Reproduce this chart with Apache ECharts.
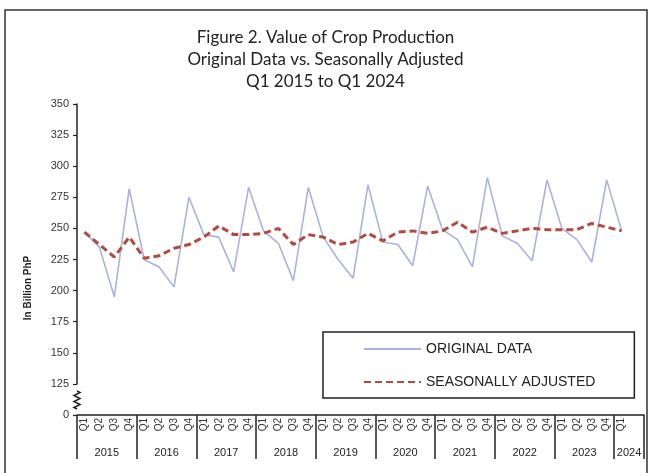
<!DOCTYPE html>
<html>
<head>
<meta charset="utf-8">
<script src="https://cdn.jsdelivr.net/npm/echarts@6/dist/echarts.min.js"></script>
<style>html,body{margin:0;padding:0;background:#fff;}#chart{width:651px;height:473px;}</style>
</head>
<body>
<div id="chart"></div>
<script>
// Quarter categories (last slot is an empty spacer, as in the original layout)
var quarters = ['Q1','Q2','Q3','Q4','Q1','Q2','Q3','Q4','Q1','Q2','Q3','Q4','Q1','Q2','Q3','Q4','Q1','Q2','Q3','Q4','Q1','Q2','Q3','Q4','Q1','Q2','Q3','Q4','Q1','Q2','Q3','Q4','Q1','Q2','Q3','Q4','Q1',''];
var years = ['2015','2016','2017','2018','2019','2020','2021','2022','2023','2024'];
var originalData = [247, 235, 195, 282, 225, 219, 203, 275, 245, 243, 215, 283, 248, 238, 208, 283, 243, 225, 210, 285, 239, 237, 220, 284, 249, 241, 219, 291, 244, 238, 224, 289, 250, 241, 223, 289, 248];
var seasonallyAdjusted = [247, 237, 227, 243, 226, 228, 234, 237, 243, 252, 245, 245, 246, 250, 237, 245, 243, 237, 239, 246, 240, 247, 248, 246, 248, 255, 247, 251, 246, 248, 250, 249, 249, 249, 254, 251, 248];
var seriesNames = ['ORIGINAL DATA', 'SEASONALLY ADJUSTED'];

// Year row: half-quarter slots, year label at the middle of each group
var yearSlots = [];
for (var i = 0; i <= 76; i++) yearSlots.push('');
for (var k = 0; k < 9; k++) yearSlots[8 * k + 4] = years[k];
yearSlots[74] = years[9];

// axis-break squiggle decoration (between the 0 and 125 ticks)
var ax = 77, sTop = 391, sBot = 409;
var squiggle = [[ax, sTop]];
var n = 6;
for (var j = 1; j <= n; j++) {
  squiggle.push([ax + (j % 2 ? 3 : -3), sTop + (sBot - sTop) * (j - 0.5) / n]);
}
squiggle.push([ax, sBot]);

var chart = echarts.init(document.getElementById('chart'), null, {renderer: 'canvas'});
var option = {
  animation: false,
  backgroundColor: '#fff',
  title: {
    text: 'Figure 2. Value of Crop Production\nOriginal Data vs. Seasonally Adjusted\nQ1 2015 to Q1 2024',
    left: 'center',
    top: 22,
    textStyle: {fontFamily: 'Lato', fontSize: 17, fontWeight: 'normal', color: '#222', lineHeight: 22, align: 'center'}
  },
  legend: {
    orient: 'vertical',
    left: 323,
    top: 332,
    data: seriesNames,
    itemWidth: 57,
    itemHeight: 14,
    itemGap: 19,
    padding: [10, 39, 9, 40],
    borderColor: '#222',
    borderWidth: 1.5,
    backgroundColor: '#fff',
    itemStyle: {opacity: 0},
    textStyle: {fontFamily: 'Arial, Liberation Sans', fontSize: 14, color: '#222'}
  },
  grid: {left: 77, right: 7, top: 104, bottom: 58, containLabel: false},
  xAxis: [{
    type: 'category',
    data: quarters,
    boundaryGap: true,
    axisLine: {lineStyle: {color: '#222', width: 1.5}},
    axisTick: {show: false},
    axisLabel: {rotate: 90, interval: 0, fontFamily: 'Arial, Liberation Sans', fontSize: 10, color: '#333', margin: 3}
  }, {
    type: 'category',
    data: yearSlots,
    position: 'bottom',
    boundaryGap: false,
    axisLine: {show: false},
    axisTick: {
      show: true, length: 44, inside: false,
      interval: function (idx) { return idx % 8 === 0 || idx === 76; },
      lineStyle: {color: '#222', width: 1.5}
    },
    axisLabel: {interval: 0, margin: 32, fontFamily: 'Arial, Liberation Sans', fontSize: 11, color: '#222'}
  }],
  yAxis: {
    type: 'value',
    min: 0, max: 350, interval: 25,
    breaks: [{start: 0, end: 125, gap: 25}],
    breakArea: {show: false},
    splitLine: {show: false},
    axisLine: {show: true, lineStyle: {color: '#222', width: 1.5}},
    axisTick: {show: true, length: 4, lineStyle: {color: '#222', width: 1.2}},
    axisLabel: {fontFamily: 'Arial, Liberation Sans', fontSize: 11, color: '#333', margin: 8}
  },
  series: [{
    name: seriesNames[0],
    type: 'line',
    data: originalData,
    symbol: 'none',
    color: '#a9b2e0',
    lineStyle: {color: '#a9b2e0', width: 1.6},
    z: 2
  }, {
    name: seriesNames[1],
    type: 'line',
    data: seasonallyAdjusted,
    symbol: 'none',
    color: '#b4493f',
    lineStyle: {color: '#b4493f', width: 3, type: [7, 4]},
    z: 3
  }],
  graphic: [
    {type: 'rect', shape: {x: 5, y: 10, width: 642, height: 470}, style: {fill: 'none', stroke: '#333', lineWidth: 1.5}, z: 100, silent: true},
    {type: 'rect', shape: {x: ax - 2, y: sTop, width: 4, height: sBot - sTop}, style: {fill: '#fff'}, z: 99, silent: true},
    {type: 'polyline', shape: {points: squiggle}, style: {fill: 'none', stroke: '#222', lineWidth: 1.5}, z: 100, silent: true},
    {type: 'text', x: 28, y: 288, rotation: Math.PI / 2, style: {text: 'In Billion PhP', font: 'bold 10px Arial, Liberation Sans', fill: '#222', textAlign: 'center', textVerticalAlign: 'middle'}, z: 100, silent: true}
  ]
};
chart.setOption(option);
</script>
</body>
</html>
